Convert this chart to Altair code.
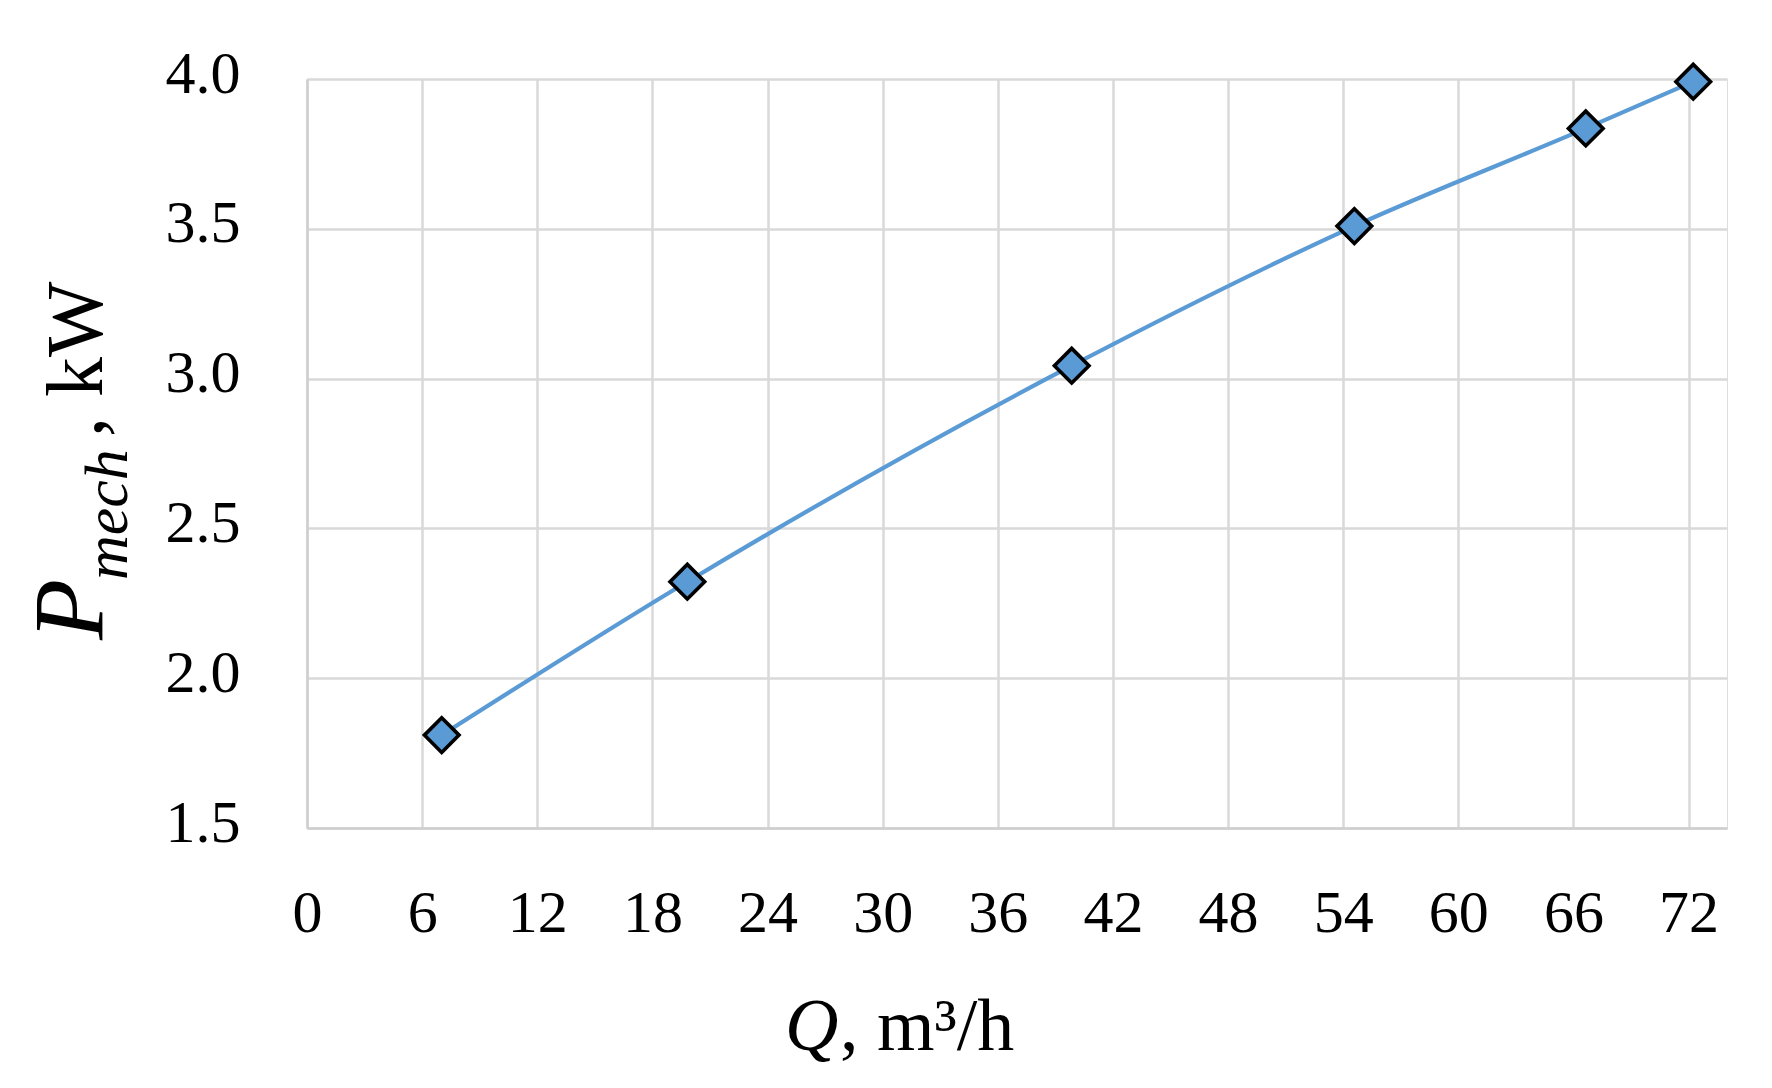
import altair as alt
import pandas as pd

# Data
q_values = [7.02, 19.82, 39.85, 54.58, 66.64, 72.24]
p_values = [1.81, 2.322, 3.043, 3.509, 3.835, 3.991]
x_ticks = [0, 6, 12, 18, 24, 30, 36, 42, 48, 54, 60, 66, 72]
y_ticks = [1.5, 2.0, 2.5, 3.0, 3.5, 4.0]

df = pd.DataFrame({"Q": q_values, "P": p_values})
one = pd.DataFrame({"a": [0]})

FONT = "Liberation Serif"
BLUE = "#5b9bd5"

x_enc = alt.X(
    "Q:Q",
    scale=alt.Scale(domain=[0, 74], nice=False, zero=False),
    axis=alt.Axis(values=x_ticks, title=None, grid=True, ticks=False, tickSize=0,
                  labelFont=FONT, labelFontSize=60, labelColor="black",
                  labelPadding=56, labelFlush=False, labelOverlap=False,
                  gridColor="#d9d9d9", gridWidth=2.5,
                  domainColor="#cfcfcf", domainWidth=2.5),
)
y_enc = alt.Y(
    "P:Q",
    scale=alt.Scale(domain=[1.5, 4.0], nice=False, zero=False),
    axis=alt.Axis(values=y_ticks, format=".1f", title=None, grid=True, ticks=False, tickSize=0,
                  labelFont=FONT, labelFontSize=60, labelColor="black",
                  labelPadding=67, labelOffset=-5, labelFlush=False, labelOverlap=False,
                  gridColor="#d9d9d9", gridWidth=2.5,
                  domainColor="#cfcfcf", domainWidth=2.5),
)

line = alt.Chart(df).mark_line(color=BLUE, strokeWidth=4.2, interpolate="monotone").encode(
    x=x_enc, y=y_enc
)
points = alt.Chart(df).mark_point(
    shape="diamond", filled=True, fill=BLUE, stroke="black", strokeWidth=3.6,
    size=1200, opacity=1
).encode(x="Q:Q", y="P:Q")


def label(txt, x, y, size, style="normal", angle=0, align="left"):
    return alt.Chart(one).mark_text(
        text=txt, font=FONT, fontSize=size, fontStyle=style, color="black",
        angle=angle, align=align, baseline="alphabetic"
    ).encode(x=alt.value(x), y=alt.value(y))


# x-axis title: "Q, m³/h" (Q italic)
xt1 = label("Q", 478, 971, 74, style="italic")
xt2 = label(", m³/h", 533, 971, 74)
# y-axis title: P_mech , kW (rotated)
yt1 = label("P", -205, 561, 100, style="italic", angle=270)
yt2 = label("mech", -180, 501, 62, style="italic", angle=270)
yt3 = label(", kW", -205, 358, 80, angle=270)

chart = alt.layer(line, points, xt1, xt2, yt1, yt2, yt3).properties(
    width=1420, height=749,
    autosize=alt.AutoSizeParams(type="none"),
    padding={"left": 299, "top": 71, "right": 30, "bottom": 240},
).configure_view(stroke=None).configure(background="white")

chart.save("out.html", embed_options={"renderer": "svg", "actions": False})
